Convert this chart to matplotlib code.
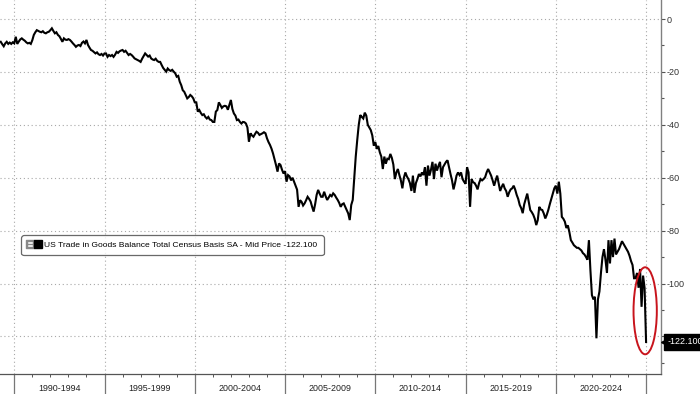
import matplotlib
matplotlib.use("Agg")
import matplotlib.pyplot as plt
from matplotlib.lines import Line2D
from matplotlib.patches import Ellipse
from matplotlib.legend_handler import HandlerTuple
import numpy as np

plt.rcParams['font.family'] = ['Liberation Sans', 'DejaVu Sans']
plt.rcParams['axes.unicode_minus'] = False

# monthly US goods trade balance, USD bn, starting Mar 1989
start_year, start_month = 1989, 3
vals_1989_1994 = [
    -8.6, -9.5, -10.3, -9.2, -8.6, -9.4, -8.9, -9.4, -8.8, -9.2,
    -6.7, -9.4, -8.5, -7.7, -7.3, -7.8, -8.2, -8.8, -9.2, -9.0, -9.4, -8.0,
    -6.0, -5.0, -4.2, -4.5, -4.8, -5.0, -4.6, -5.2, -5.4, -5.0, -4.8, -4.2,
    -3.5, -4.5, -5.4, -5.0, -6.0, -6.5, -7.5, -8.6, -7.3, -7.8, -7.9, -7.6,
    -7.9, -8.5, -9.2, -9.8, -10.5, -10.0, -9.8, -10.2, -9.0, -8.5, -9.2, -7.9,
    -9.8, -10.8, -11.7, -12.0, -12.5, -13.0, -12.6, -13.3, -13.6, -13.2, -13.8, -13.0,
]
vals_1995_1999 = [
    -13.0, -14.3, -13.6, -14.0, -13.6, -14.3, -13.5, -12.4, -12.8, -12.2, -11.9, -11.7,
    -12.4, -12.0, -12.8, -13.6, -13.2, -13.6, -14.2, -14.9, -15.2, -15.5, -15.8, -16.2,
    -15.0, -14.0, -13.0, -13.6, -14.2, -13.8, -14.9, -15.3, -15.5, -15.0, -15.8, -16.2,
    -16.2, -17.4, -18.5, -19.2, -19.9, -18.7, -19.3, -19.6, -19.2, -19.9, -20.5, -21.8,
    -21.5, -23.7, -25.0, -26.9, -27.5, -28.8, -30.0, -29.5, -28.7, -29.2, -30.0, -31.5,
]
vals_2000_2004 = [
    -31.5, -35.0, -34.4, -35.5, -36.3, -36.0, -37.0, -37.6, -37.0, -38.0, -38.2, -38.9,
    -38.9, -35.0, -34.4, -31.5, -32.5, -33.6, -33.0, -32.8, -33.0, -34.3, -32.5, -30.6,
    -34.0, -35.7, -36.5, -38.2, -38.0, -38.9, -39.5, -38.9, -39.0, -39.5, -41.0, -46.4,
    -43.2, -44.0, -44.5, -43.5, -42.6, -43.0, -43.8, -43.5, -43.2, -42.8, -43.2, -45.1,
    -46.5, -47.6, -49.0, -50.8, -53.0, -55.2, -57.7, -54.6, -55.2, -57.0, -58.4, -57.5,
]
vals_2005_2009 = [
    -61.5, -59.0, -59.5, -61.0, -60.0, -61.5, -62.9, -64.5, -71.0, -68.5, -69.1, -70.5,
    -69.7, -68.5, -67.2, -68.0, -69.0, -71.0, -72.8, -70.0, -66.5, -64.6, -66.0, -67.2,
    -67.2, -65.3, -67.0, -68.4, -67.5, -66.5, -67.0, -65.9, -66.5, -67.5, -68.4, -69.5,
    -71.0, -70.0, -69.7, -71.0, -72.2, -73.5, -76.0, -70.3, -68.4, -60.0, -52.0, -45.7,
    -40.0, -36.3, -37.0, -37.6, -35.4, -36.5, -40.0, -41.0, -42.0, -44.0, -47.9, -46.5,
]
vals_2010_2014 = [
    -49.1, -48.0, -50.4, -52.0, -56.7, -52.0, -54.7, -52.8, -53.0, -51.0, -52.5, -55.0,
    -60.5, -58.0, -56.7, -59.0, -61.0, -64.0, -60.0, -58.0, -59.5, -60.5, -62.0, -65.0,
    -59.2, -65.7, -62.0, -60.5, -58.6, -59.5, -58.0, -59.0, -56.0, -63.0, -55.4, -59.2,
    -57.0, -54.0, -60.5, -54.7, -57.3, -55.5, -54.0, -59.8, -56.0, -55.0, -54.0, -53.4,
    -56.0, -58.6, -61.0, -64.4, -62.0, -59.2, -58.0, -59.0, -58.0, -60.5, -61.5, -62.3,
]
vals_2015_2019 = [
    -56.0, -58.0, -71.0, -60.5, -61.7, -62.0, -63.0, -64.4, -62.0, -60.5, -61.0, -60.5,
    -59.8, -58.0, -56.7, -58.0, -59.2, -61.0, -63.0, -61.0, -59.2, -62.0, -65.0, -63.5,
    -62.3, -64.0, -65.0, -67.2, -65.5, -64.4, -64.0, -63.0, -64.5, -66.5, -68.0, -70.3,
    -71.5, -73.4, -70.0, -68.0, -66.0, -69.0, -72.2, -73.0, -74.0, -75.5, -77.9, -76.0,
    -71.0, -72.0, -72.2, -73.5, -75.4, -74.0, -72.2, -70.0, -68.0, -66.0, -64.0, -63.0,
]
vals_2020_2024 = [
    -66.0, -61.5, -66.0, -74.8, -75.5, -76.6, -79.0, -78.0, -80.5, -83.6, -84.5, -85.5,
    -86.0, -86.5, -86.5, -87.0, -87.5, -88.5, -89.0, -89.9, -91.0, -83.6, -95.0, -104.4,
    -106.0, -105.0, -120.7, -106.0, -103.0, -96.0, -90.0, -87.0, -91.0, -96.0, -83.6, -92.4,
    -83.6, -90.0, -83.0, -89.0, -88.0, -87.0, -85.5, -84.0, -85.0, -86.0, -87.0, -88.0,
    -89.5, -91.5, -93.0, -98.0, -98.0, -96.0, -101.6, -94.5, -108.8, -97.0, -101.6, -122.1,
]
period_labels = ["1990-1994", "1995-1999", "2000-2004", "2005-2009",
                 "2010-2014", "2015-2019", "2020-2024"]
series_name = "US Trade in Goods Balance Total Census Basis SA - Mid Price"

values = np.array(vals_1989_1994 + vals_1995_1999 + vals_2000_2004 + vals_2005_2009
                  + vals_2010_2014 + vals_2015_2019 + vals_2020_2024)
# month-end positions in fractional years
t = start_year + (start_month + np.arange(len(values))) / 12.0
last = values[-1]

fig = plt.figure(figsize=(7, 3.94), dpi=100)
ax = fig.add_axes([0, 20 / 394, 660.7 / 700, 374 / 394])

ax.plot(t, values, color='black', lw=1.5, solid_joinstyle='miter', zorder=3)

ax.set_xlim(1989.21, 2025.81)
ax.set_ylim(-134.2, 7.2)

# right-hand value axis
ax.yaxis.tick_right()
ax.set_yticks(np.arange(-120, 1, 20))
ax.set_yticks(np.arange(-130, 1, 10), minor=True)
ax.tick_params(axis='y', which='major', length=3, width=0.8, color='#555555',
               labelsize=6.5, labelcolor='#333333', pad=1.5)
ax.tick_params(axis='y', which='minor', length=2, width=0.8, color='#555555')

# 5-year separators and yearly ticks
ax.set_xticks(np.arange(1990, 2026, 5))
ax.set_xticks(np.arange(1990, 2026, 1), minor=True)
ax.tick_params(axis='x', which='major', length=14.5, width=0.9, color='#777777',
               labelbottom=False)
ax.tick_params(axis='x', which='minor', length=2.2, width=0.7, color='#555555')
for i, lab in enumerate(period_labels):
    ax.text(1992.5 + 5 * i, -0.040, lab, transform=ax.get_xaxis_transform(),
            ha='center', va='center', fontsize=6.4, color='#222222')

ax.grid(True, which='major', color='#a8a8a8', lw=0.8, linestyle=(0, (1, 2.5)))

for side in ('top', 'left'):
    ax.spines[side].set_visible(False)
ax.spines['right'].set_color('#808080')
ax.spines['bottom'].set_color('#555555')
ax.spines['right'].set_linewidth(1.0)
ax.spines['bottom'].set_linewidth(0.9)

# legend box
h_icon = Line2D([], [], ls='none', marker=r'$\boxminus$', color='#888888', markersize=5.5)
h_sq = Line2D([], [], ls='none', marker='s', color='black', markersize=5.5)
leg = ax.legend([(h_icon, h_sq)], [f"{series_name} {last:.3f}"],
                handler_map={tuple: HandlerTuple(ndivide=None, pad=0.15)},
                loc='upper left', bbox_to_anchor=(0.034, 0.367), borderaxespad=0,
                fontsize=6.1, frameon=True, fancybox=True, handlelength=1.7,
                handletextpad=0.35, borderpad=0.55)
leg.get_frame().set_edgecolor('#444444')
leg.get_frame().set_linewidth(0.9)
leg.get_frame().set_boxstyle('round,pad=0.15,rounding_size=0.3')

# last value tag on the axis
trans = ax.get_yaxis_transform()
ax.text(1.0 + 7 / 660.7, last, f"{last:.3f}", transform=trans, ha='left', va='center',
        color='white', fontsize=6.5, clip_on=False, zorder=10,
        bbox=dict(boxstyle='square,pad=0.4', fc='black', ec='black'))
ax.plot([1.0 + 3.5 / 660.7], [last], marker='<', color='black', markersize=5,
        transform=trans, clip_on=False, zorder=10)

# red highlight ring around the latest reading
ax.add_patch(Ellipse((2024.95, -110.3), 1.29, 32.9, fill=False, ec='#c8141c', lw=1.4,
                     zorder=4))

fig.savefig('out.png', dpi=100, facecolor='white')
